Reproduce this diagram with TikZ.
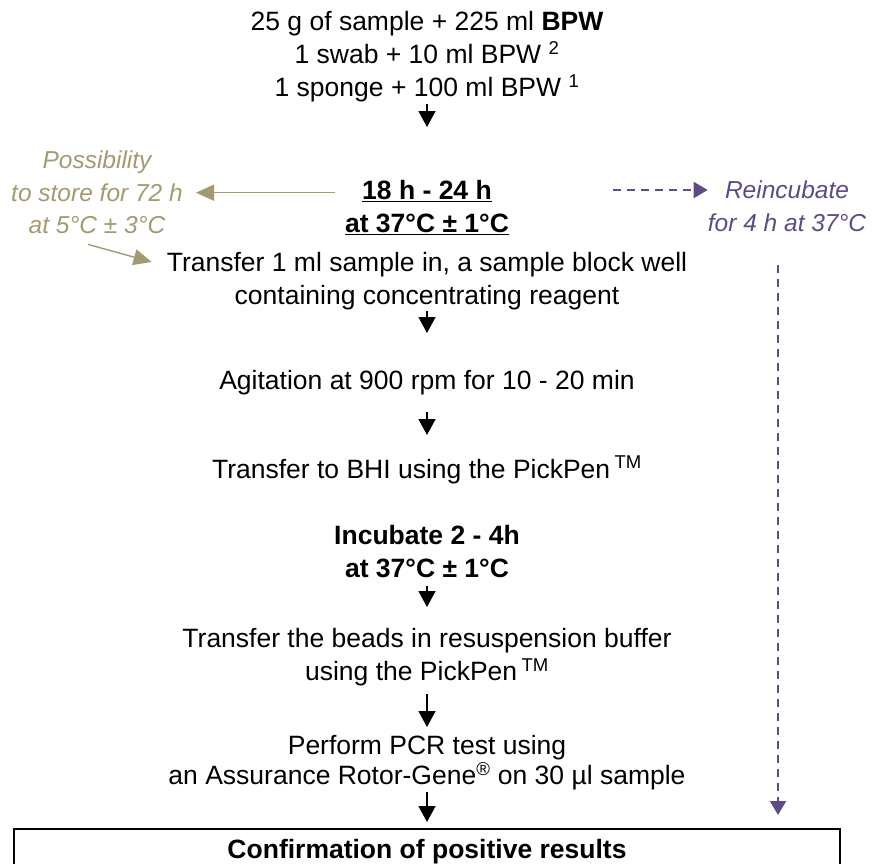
\documentclass[tikz,border=0pt]{standalone}
\usepackage{fontspec}
\setmainfont{Liberation Sans}
\usetikzlibrary{arrows.meta,positioning,calc}
\definecolor{keepkhaki}{HTML}{A39A72}
\definecolor{redopurple}{HTML}{5E4A87}

\begin{document}
\begin{tikzpicture}[
  x=1pt, y=-1pt,
  stage/.style={
    align=center,
    inner sep=0pt,
    anchor=north,
    font=\fontsize{26.5}{33}\selectfont
  },
  aside/.style={
    align=center,
    inner sep=0pt,
    anchor=north,
    font=\fontsize{24.5}{32.5}\selectfont\itshape
  },
  flow/.style={-{Triangle[width=17pt,length=16pt]},line width=1.4pt},
  keep/.style={-{Triangle[width=16pt,length=18pt]},line width=1.4pt,color=keepkhaki},
  redo/.style={-{Triangle[width=16pt,length=14pt]},line width=2pt,color=redopurple,
    dash pattern=on 8pt off 6pt}
]
\useasboundingbox (0,0) rectangle (878,863);
\clip (0,0) rectangle (878,863);

\node[stage] (src) at (427,11) {25 g of sample + 225 ml \textbf{BPW}\\
  1 swab + 10 ml BPW \textsuperscript{2}\\
  1 sponge + 100 ml BPW \textsuperscript{1}};
\node[stage] (incub) at (427,180) {\underline{\textbf{18 h - 24 h}}\\
  \underline{\textbf{at 37°C ± 1°C}}};
\node[stage] (transfer) at (427,252) {Transfer 1 ml sample in, a sample block well\\
  containing concentrating reagent};
\node[stage] (agit) at (427,370) {Agitation at 900 rpm for 10 - 20 min};
\node[stage] (bhi) at (427,456) {Transfer to BHI using the PickPen\,\textsuperscript{TM}};
\node[stage] (incub2) at (427,525) {\textbf{Incubate 2 - 4h}\\
  \textbf{at 37°C ± 1°C}};
\node[stage] (beads) at (427,628) {Transfer the beads in resuspension buffer\\
  using the PickPen\,\textsuperscript{TM}};
\node[stage,font=\fontsize{26.5}{30}\selectfont] (pcr) at (427,735) {Perform PCR test using\\
  an Assurance Rotor-Gene\textsuperscript{®} on 30 µl sample};
\node[stage,draw,line width=2pt,minimum width=826pt,inner ysep=10pt,
  text height=19pt,text depth=40pt] (confirm) at (427,828)
  {\textbf{Confirmation of positive results}};

\node[aside,keepkhaki] (store) at (97,151) {Possibility\\
  to store for 72 h\\
  at 5°C ± 3°C};
\node[aside,redopurple] (reinc) at (787,181) {Reincubate\\
  for 4 h at 37°C};

% main flow
\draw[flow,shorten <=2pt,shorten >=53pt] (src.south) -- (incub.north);
\draw[flow,shorten <=1pt,shorten >=37pt] (transfer.south) -- (agit.north);
\draw[flow,shorten <=17pt,shorten >=21pt] (agit.south) -- (bhi.north);
\draw[flow,shorten <=8pt,shorten >=21pt] (incub2.south) -- (beads.north);
\draw[flow,shorten <=8pt,shorten >=8pt] (beads.south) -- (pcr.north);
\draw[flow,shorten <=2pt,shorten >=6pt] (pcr.south) -- (confirm.north);

% storage option
\draw[keep,shorten <=10pt,shorten >=13pt] (incub.west |- store.east) -- (store.east);
\draw[keep] ([xshift=-9pt,yshift=-10pt]store.south) -- ([xshift=-15pt,yshift=-10pt]transfer.north west);

% reincubation
\coordinate (retry) at (613,190);
\draw[redo] (retry) -- (retry -| reinc.west);
\draw[redo,shorten <=33pt,shorten >=13pt] ([xshift=-9pt]reinc.south) -- ([xshift=-9pt]reinc.south |- confirm.north);
\end{tikzpicture}
\end{document}
